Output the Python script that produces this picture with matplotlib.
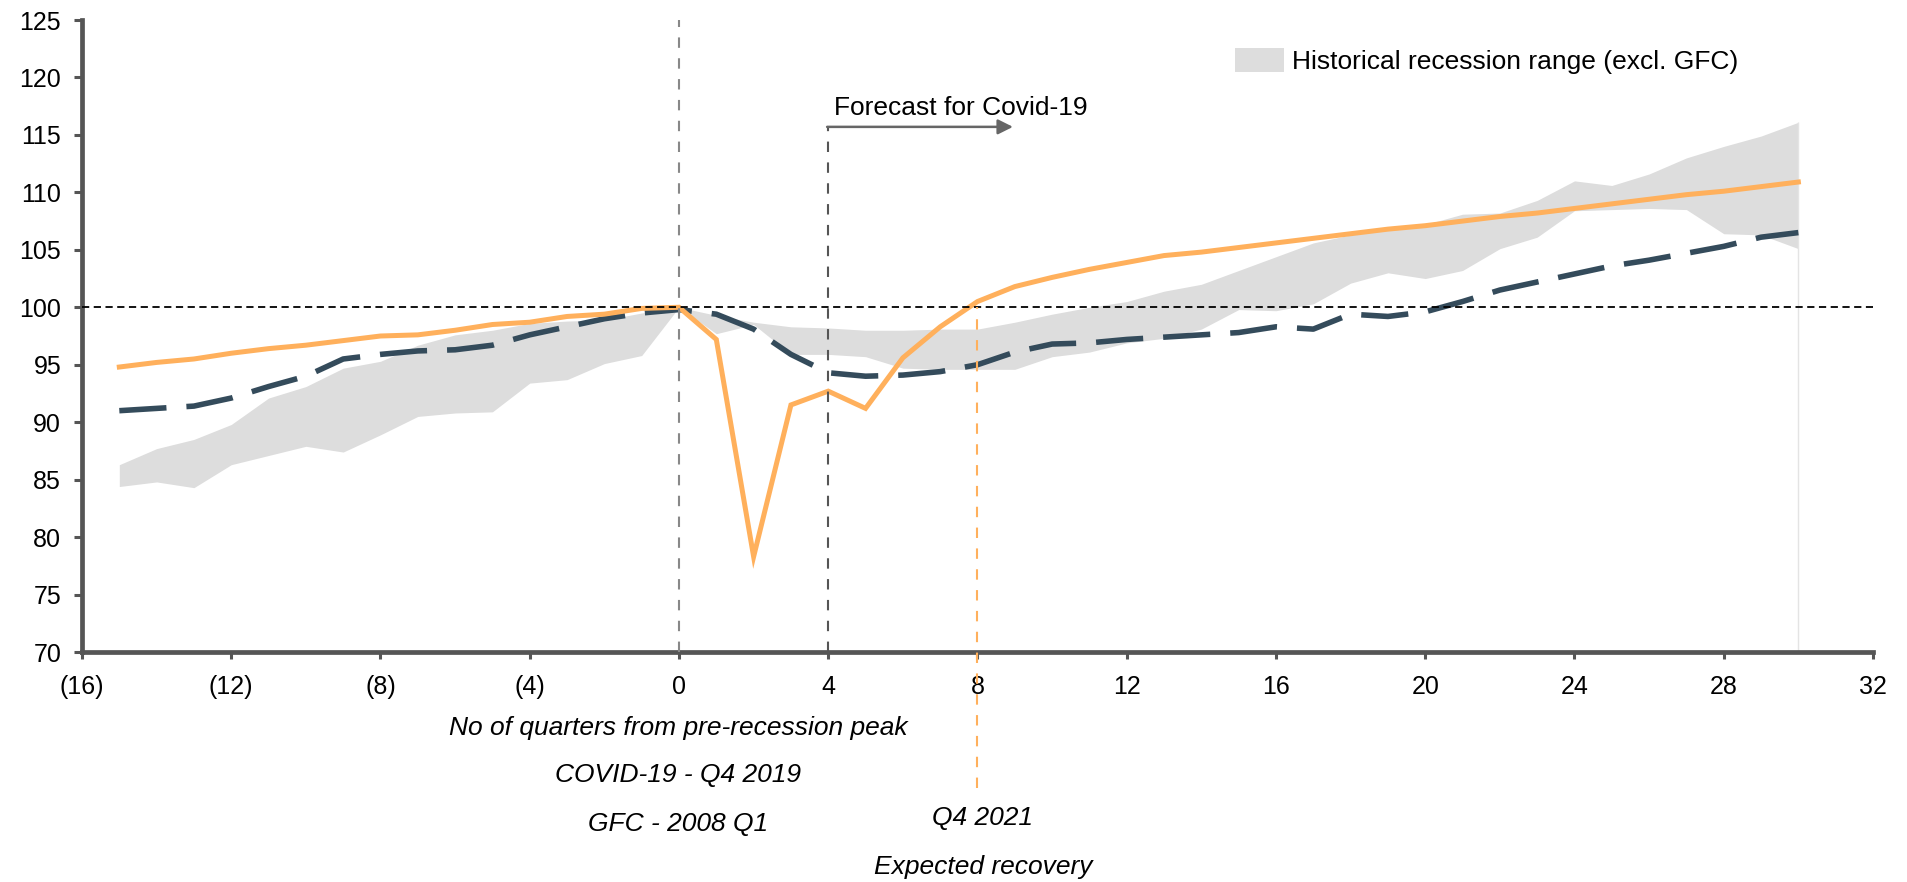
import matplotlib
matplotlib.use("Agg")
import matplotlib.pyplot as plt
from matplotlib.patches import Patch

plt.rcParams['font.family'] = ['Liberation Sans', 'DejaVu Sans']

# ---------------- data ----------------
quarters = list(range(-15, 31))

covid = [94.8, 95.2, 95.5, 96.0, 96.4, 96.7, 97.1, 97.5, 97.6, 98.0,
         98.5, 98.7, 99.2, 99.4, 99.9, 100.0, 97.2, 78.3, 91.5, 92.7,
         91.2, 95.6, 98.3, 100.5, 101.8, 102.6, 103.3, 103.9, 104.5, 104.8,
         105.2, 105.6, 106.0, 106.4, 106.8, 107.1, 107.5, 107.9, 108.2, 108.6,
         109.0, 109.4, 109.8, 110.1, 110.5, 110.9]

gfc = [91.0, 91.2, 91.4, 92.1, 93.1, 94.0, 95.5, 95.9, 96.2, 96.3,
       96.7, 97.6, 98.3, 99.0, 99.5, 99.8, 99.4, 98.1, 95.9, 94.3,
       94.0, 94.1, 94.4, 95.0, 96.1, 96.8, 96.9, 97.2, 97.4, 97.6,
       97.8, 98.3, 98.1, 99.4, 99.2, 99.6, 100.5, 101.5, 102.2, 102.9,
       103.6, 104.1, 104.7, 105.3, 106.1, 106.5]

hist_upper = [86.3, 87.7, 88.5, 89.8, 92.1, 93.1, 94.7, 95.3, 96.7, 97.6,
              98.0, 98.6, 98.8, 98.9, 99.5, 100.0, 99.3, 98.7, 98.3, 98.2,
              98.0, 98.0, 98.1, 98.1, 98.7, 99.4, 100.0, 100.5, 101.4, 102.0,
              103.2, 104.4, 105.6, 106.3, 106.7, 107.2, 108.1, 108.2, 109.3, 111.0,
              110.6, 111.6, 113.0, 114.0, 114.9, 116.1]

hist_lower = [84.4, 84.8, 84.3, 86.3, 87.1, 87.9, 87.4, 88.9, 90.5, 90.8,
              90.9, 93.4, 93.7, 95.1, 95.8, 100.0, 97.7, 98.5, 95.9, 95.9,
              95.7, 94.7, 94.6, 94.6, 94.6, 95.7, 96.1, 96.9, 97.3, 98.1,
              99.8, 99.7, 100.3, 102.1, 103.0, 102.5, 103.2, 105.1, 106.1, 108.4,
              108.5, 108.6, 108.5, 106.4, 106.3, 105.1]

xticks = [-16, -12, -8, -4, 0, 4, 8, 12, 16, 20, 24, 28, 32]
xtick_labels = ["(16)", "(12)", "(8)", "(4)", "0", "4", "8", "12", "16",
                "20", "24", "28", "32"]
yticks = [70, 75, 80, 85, 90, 95, 100, 105, 110, 115, 120, 125]

band_label = "Historical recession range (excl. GFC)"
forecast_label = "Forecast for Covid-19"

# ---------------- style ----------------
ORANGE = '#FFB05C'
NAVY = '#344B5B'
BAND = '#DDDDDD'
AXC = '#555555'
W, H = 1908, 882

fig = plt.figure(figsize=(W / 100, H / 100), dpi=100)
ax = fig.add_axes([82 / W, 1 - 652 / H, (1873 - 82) / W, (652 - 20) / H])
ax.set_xlim(-16, 32)
ax.set_ylim(70, 125)

ax.fill_between(quarters, hist_lower, hist_upper, color=BAND, lw=0,
                zorder=1, label=band_label)
ax.vlines(30, 70, hist_upper[-1], color='#E4E4E4', lw=1, zorder=1)

ax.plot(quarters, gfc, color=NAVY, lw=4.0, dashes=(8.5, 3.6), zorder=3,
        solid_capstyle='butt', dash_capstyle='butt')
ax.plot(quarters, covid, color=ORANGE, lw=3.6, zorder=4,
        solid_joinstyle='miter')

# reference lines
ax.axhline(100, color='black', lw=1.3, dashes=(4, 2.5), zorder=5)
ax.axvline(0, color='#888888', lw=1.5, dashes=(5, 5), zorder=5)
ax.plot([4, 4], [70, 115.7], color='#555555', lw=1.5, dashes=(5, 5), zorder=5)
ax.plot([8, 8], [58.2, 100], color=ORANGE, lw=1.5, dashes=(5, 5),
        zorder=5, clip_on=False)

# forecast arrow
ax.annotate('', xy=(8.95, 115.7), xytext=(3.97, 115.7),
            arrowprops=dict(arrowstyle='-|>,head_length=0.9,head_width=0.45',
                            color='#666666', lw=1.8, shrinkA=0, shrinkB=0),
            zorder=6)
fig.text(834 / W, 1 - 115 / H, forecast_label, fontsize=19, ha='left',
         va='baseline', color='black')

# axes styling
for s in ['top', 'right']:
    ax.spines[s].set_visible(False)
ax.spines['left'].set_color(AXC)
ax.spines['left'].set_linewidth(3.4)
ax.spines['bottom'].set_color(AXC)
ax.spines['bottom'].set_linewidth(3.4)
ax.set_xticks(xticks)
ax.set_xticklabels(xtick_labels)
ax.set_yticks(yticks)
ax.tick_params(axis='y', length=6, width=2.2, color=AXC, pad=9,
               labelsize=18)
ax.tick_params(axis='x', length=5, width=2.2, color=AXC, pad=11.5,
               labelsize=18)

# legend
leg = ax.legend(handles=[Patch(facecolor=BAND, edgecolor='none')],
                labels=[band_label], loc='upper left',
                bbox_to_anchor=(1235 / W, 1 - 48 / H),
                bbox_transform=fig.transFigure, frameon=False, fontsize=19,
                handlelength=1.85, handleheight=1.0, handletextpad=0.3,
                borderpad=0, borderaxespad=0)

# bottom texts
def ftext(x, y, s):
    fig.text(x / W, 1 - y / H, s, fontsize=19, style='italic',
             ha='center', va='center')

ftext(678, 728, "No of quarters from pre-recession peak")
ftext(678, 775, "COVID-19 - Q4 2019")
ftext(678, 824, "GFC - 2008 Q1")
ftext(983, 818, "Q4 2021")
ftext(983, 867, "Expected recovery")

fig.savefig('out.png', dpi=100)
